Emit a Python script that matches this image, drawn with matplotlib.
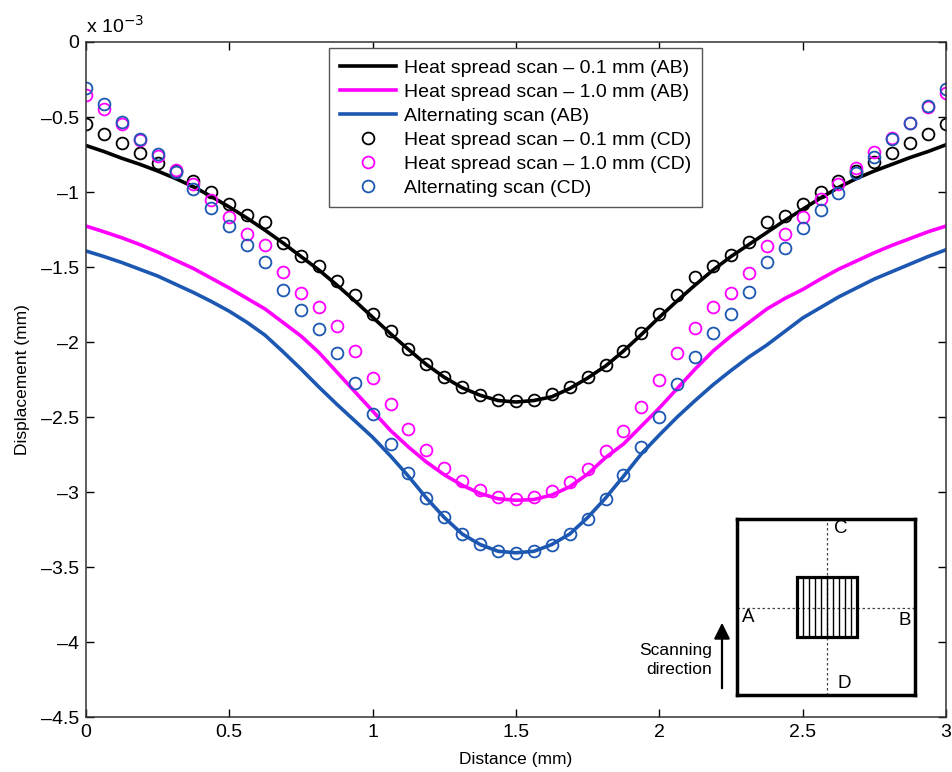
import matplotlib
matplotlib.use('Agg')
import matplotlib.pyplot as plt
import numpy as np
from matplotlib.patches import Rectangle
from matplotlib.ticker import FuncFormatter, MultipleLocator

plt.rcParams['font.family'] = ['Liberation Sans', 'DejaVu Sans']

# x positions (mm) of the CD samples and AB curves
distance = np.arange(49) * 0.0625

# displacement in units of 1e-3 mm
# solid lines: scan along AB
heat_01_ab = [-0.69, -0.73, -0.775, -0.815, -0.86, -0.91, -0.965, -1.03, -1.10, -1.175,
              -1.255, -1.34, -1.43, -1.52, -1.62, -1.725, -1.835, -1.945, -2.05, -2.15,
              -2.235, -2.305, -2.355, -2.39, -2.40, -2.39, -2.365, -2.31, -2.24, -2.16,
              -2.06, -1.95, -1.835, -1.725, -1.62, -1.52, -1.43, -1.35, -1.27, -1.19,
              -1.115, -1.04, -0.97, -0.91, -0.86, -0.815, -0.77, -0.73, -0.685]
heat_10_ab = [-1.227, -1.265, -1.305, -1.35, -1.40, -1.455, -1.51, -1.575, -1.64, -1.71,
              -1.78, -1.87, -1.96, -2.07, -2.20, -2.33, -2.46, -2.59, -2.70, -2.80,
              -2.885, -2.955, -3.01, -3.045, -3.055, -3.05, -3.02, -2.965, -2.88, -2.77,
              -2.68, -2.56, -2.44, -2.31, -2.18, -2.06, -1.96, -1.87, -1.78, -1.71,
              -1.65, -1.58, -1.515, -1.46, -1.405, -1.355, -1.31, -1.265, -1.227]
alt_ab = [-1.393, -1.43, -1.47, -1.515, -1.56, -1.615, -1.67, -1.73, -1.795, -1.87,
          -1.955, -2.065, -2.18, -2.30, -2.415, -2.525, -2.635, -2.76, -2.895, -3.04,
          -3.17, -3.28, -3.35, -3.395, -3.405, -3.395, -3.35, -3.28, -3.17, -3.04,
          -2.895, -2.745, -2.62, -2.50, -2.39, -2.285, -2.19, -2.10, -2.02, -1.93,
          -1.84, -1.77, -1.70, -1.64, -1.58, -1.53, -1.48, -1.43, -1.385]

# circles: scan along CD
heat_01_cd = [-0.549, -0.611, -0.673, -0.738, -0.804, -0.86, -0.927, -0.998, -1.078, -1.153,
              -1.198, -1.338, -1.427, -1.493, -1.593, -1.687, -1.816, -1.927, -2.049, -2.149,
              -2.233, -2.300, -2.353, -2.389, -2.393, -2.385, -2.349, -2.300, -2.233, -2.151,
              -2.057, -1.938, -1.811, -1.687, -1.564, -1.493, -1.42, -1.331, -1.198, -1.16,
              -1.078, -0.998, -0.927, -0.86, -0.798, -0.738, -0.671, -0.611, -0.549]
heat_10_cd = [-0.353, -0.449, -0.544, -0.655, -0.76, -0.856, -0.949, -1.056, -1.164, -1.278,
              -1.356, -1.531, -1.671, -1.767, -1.893, -2.060, -2.238, -2.411, -2.578, -2.720,
              -2.838, -2.927, -2.989, -3.031, -3.045, -3.031, -2.993, -2.933, -2.845, -2.727,
              -2.593, -2.433, -2.255, -2.073, -1.909, -1.767, -1.675, -1.538, -1.36, -1.282,
              -1.164, -1.049, -0.944, -0.838, -0.731, -0.638, -0.538, -0.433, -0.338]
alt_cd = [-0.304, -0.416, -0.531, -0.649, -0.749, -0.867, -0.982, -1.104, -1.227, -1.356,
          -1.464, -1.656, -1.789, -1.916, -2.071, -2.271, -2.478, -2.682, -2.871, -3.038,
          -3.167, -3.278, -3.349, -3.393, -3.408, -3.393, -3.353, -3.278, -3.182, -3.049,
          -2.887, -2.700, -2.500, -2.282, -2.100, -1.938, -1.816, -1.664, -1.464, -1.376,
          -1.242, -1.122, -1.004, -0.871, -0.767, -0.649, -0.538, -0.427, -0.316]

black = 'black'
magenta = '#ff00ff'
blue = '#1c57b2'
font_size = 14

fig = plt.figure(figsize=(9.52, 7.72), dpi=100)
ax = fig.add_axes([0.0903, 0.0712, 0.9034, 0.8744])

ax.plot(distance, heat_01_ab, '-', color=black, lw=2.6, label='Heat spread scan \u2013 0.1 mm (AB)')
ax.plot(distance, heat_10_ab, '-', color=magenta, lw=2.6, label='Heat spread scan \u2013 1.0 mm (AB)')
ax.plot(distance, alt_ab, '-', color=blue, lw=2.6, label='Alternating scan (AB)')
mk = dict(ls='none', marker='o', ms=8.5, mfc='none', mew=1.3)
ax.plot(distance, heat_01_cd, color=black, label='Heat spread scan \u2013 0.1 mm (CD)', **mk)
ax.plot(distance, heat_10_cd, color=magenta, label='Heat spread scan \u2013 1.0 mm (CD)', **mk)
ax.plot(distance, alt_cd, color=blue, label='Alternating scan (CD)', **mk)

ax.set_xlim(0, 3)
ax.set_ylim(-4.5, 0)
ax.xaxis.set_major_locator(MultipleLocator(0.5))
ax.yaxis.set_major_locator(MultipleLocator(0.5))
fmt = FuncFormatter(lambda v, p: ('%g' % v).replace('-', '\u2013'))
ax.xaxis.set_major_formatter(fmt)
ax.yaxis.set_major_formatter(fmt)
ax.tick_params(axis='both', direction='in', top=True, right=True, length=6, width=1,
               labelsize=font_size, pad=5)
for s in ax.spines.values():
    s.set_linewidth(1.1)
    s.set_color('#333333')
ax.set_xlabel('Distance (mm)', fontsize=12.5, labelpad=8)
ax.set_ylabel('Displacement (mm)', fontsize=12.5, labelpad=8)
ax.text(0.0, 1.008, 'x 10$^{\u22123}$', transform=ax.transAxes, fontsize=font_size,
        ha='left', va='bottom')

leg = ax.legend(loc='upper center', bbox_to_anchor=(0.4994, 1.005), fontsize=font_size,
                handlelength=2.9, handletextpad=0.4, borderpad=0.55, labelspacing=0.33,
                fancybox=False, edgecolor='#555555', framealpha=1)
leg.get_frame().set_linewidth(1.0)

# inset sketch of the scanned plate
ins = fig.add_axes([0.7742, 0.0997, 0.187, 0.228])
ins.set_xlim(0, 1)
ins.set_ylim(0, 1)
ins.set_xticks([])
ins.set_yticks([])
for s in ins.spines.values():
    s.set_linewidth(2.5)
ins.plot([0.504, 0.504], [0, 1], ls=(0, (2, 2)), color='#444444', lw=0.9)
ins.plot([0, 1], [0.496, 0.496], ls=(0, (2, 2)), color='#444444', lw=0.9)
ins.add_patch(Rectangle((0.335, 0.328), 0.341, 0.341, fill=False, lw=2.3, zorder=3))
ins.vlines(np.linspace(0.335, 0.676, 11)[1:-1], 0.328, 0.669, color='black', lw=1.0, zorder=3)
ins.text(0.545, 0.945, 'C', fontsize=13.5, ha='left', va='center')
ins.text(0.03, 0.44, 'A', fontsize=13.5, ha='left', va='center')
ins.text(0.975, 0.425, 'B', fontsize=13.5, ha='right', va='center')
ins.text(0.565, 0.065, 'D', fontsize=13.5, ha='left', va='center')

fig.patches.append(matplotlib.patches.FancyArrowPatch(
    (0.7584, 0.1049), (0.7584, 0.1969), transform=fig.transFigure,
    arrowstyle='-|>,head_length=6,head_width=3', mutation_scale=1.6, color='black', lw=1.6))
fig.text(0.748, 0.145, 'Scanning\ndirection', fontsize=12.5, ha='right',
         va='center', linespacing=1.4)

fig.savefig('out.png', dpi=100)
